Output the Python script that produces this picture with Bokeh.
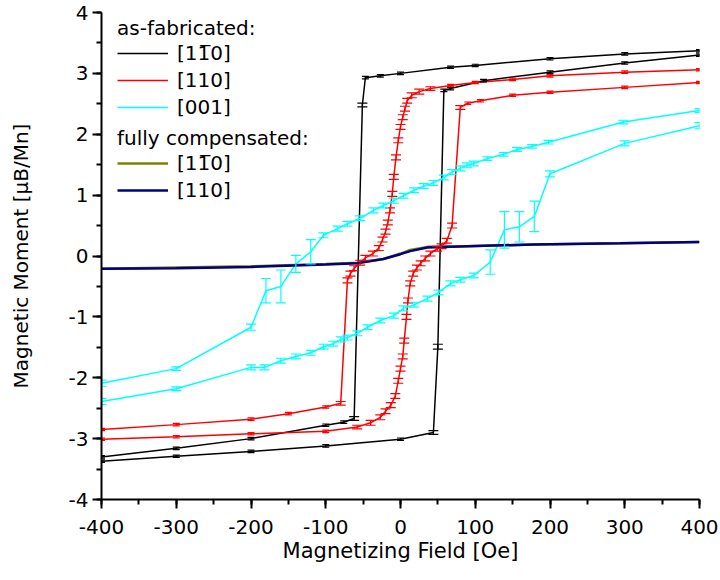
import numpy as np
from bokeh.plotting import figure
from bokeh.models import (Range1d, SingleIntervalTicker, PrintfTickFormatter, Whisker, TeeHead,
                          ColumnDataSource, Legend, LegendItem)
from bokeh.embed import file_html
from bokeh.resources import INLINE

FONT = "DejaVu Sans"

# ---------------- data ----------------
# as-fabricated [1-10]  (black)
blk_dn_x = [400, 300, 200, 100, 67, 0, -27, -47, -51, -62, -76, -100, -200, -300, -400]
blk_dn_y = [3.37, 3.32, 3.24, 3.13, 3.10, 3.00, 2.96, 2.93, 2.48, -2.67, -2.73, -2.78, -3.00, -3.16, -3.30]
blk_dn_e = [0.02, 0.02, 0.02, 0.02, 0.02, 0.02, 0.02, 0.02, 0.03, 0.03, 0.02, 0.02, 0.02, 0.02, 0.02]
blk_up_x = [-400, -300, -200, -100, 0, 44, 50, 58, 67, 111, 200, 300, 400]
blk_up_y = [-3.37, -3.29, -3.21, -3.12, -3.01, -2.90, -1.49, 2.72, 2.75, 2.88, 3.02, 3.17, 3.30]
blk_up_e = [0.02, 0.02, 0.02, 0.02, 0.02, 0.03, 0.04, 0.02, 0.02, 0.02, 0.02, 0.02, 0.02]

# as-fabricated [110]  (red)
red_dn_x = [400, 300, 200, 150, 100, 67, 40, 25, 15, 9, 6, 3, 0, -3, -6, -9, -11, -14, -17, -20, -24,
            -29, -37, -47, -54, -62, -67, -71, -80, -100, -150, -200, -300, -400]
red_dn_y = [3.06, 3.02, 2.96, 2.90, 2.85, 2.80, 2.75, 2.70, 2.64, 2.55, 2.42, 2.28, 2.12, 1.90, 1.62,
            1.30, 1.02, 0.75, 0.55, 0.40, 0.27, 0.13, 0.04, -0.03, -0.11, -0.20, -0.29, -0.40, -2.42,
            -2.48, -2.59, -2.68, -2.77, -2.85]
red_dn_e = [0.02, 0.02, 0.02, 0.02, 0.02, 0.02, 0.03, 0.04, 0.04, 0.04, 0.04, 0.04, 0.04, 0.04, 0.04,
            0.04, 0.04, 0.04, 0.04, 0.04, 0.04, 0.04, 0.04, 0.04, 0.04, 0.04, 0.04, 0.04, 0.03,
            0.02, 0.02, 0.02, 0.02, 0.02]
red_up_x = [-400, -300, -200, -100, -58, -40, -27, -20, -13, -7, -3, 0, 3, 5, 8, 10, 13, 17, 22, 27,
            33, 40, 49, 55, 62, 69, 80, 90, 107, 150, 200, 300, 400]
red_up_y = [-3.01, -2.97, -2.92, -2.88, -2.81, -2.74, -2.65, -2.55, -2.45, -2.30, -2.05, -1.85, -1.65,
            -1.39, -1.00, -0.73, -0.45, -0.29, -0.19, -0.12, -0.04, 0.04, 0.12, 0.16, 0.25, 0.50, 2.44,
            2.51, 2.55, 2.64, 2.69, 2.77, 2.85]
red_up_e = [0.02, 0.02, 0.02, 0.02, 0.03, 0.04, 0.04, 0.04, 0.04, 0.04, 0.04, 0.04, 0.04,
            0.04, 0.04, 0.04, 0.04, 0.04, 0.04, 0.04, 0.04, 0.04, 0.04, 0.04, 0.04, 0.04, 0.03,
            0.02, 0.02, 0.02, 0.02, 0.02, 0.02]

# as-fabricated [001]  (cyan)
cyn_dn_x = [400, 298, 198, 176, 156, 138, 116, 98, 89, 80, 69, 58, 44, 31, 18, 4, -9, -23, -36, -54,
            -71, -84, -103, -120, -140, -160, -180, -200, -300, -400]
cyn_dn_y = [2.39, 2.20, 1.87, 1.80, 1.75, 1.67, 1.60, 1.52, 1.49, 1.44, 1.38, 1.29, 1.20, 1.15, 1.08,
            0.99, 0.91, 0.83, 0.75, 0.62, 0.53, 0.45, 0.34, 0.07, -0.13, -0.50, -0.57, -1.17, -1.85, -2.09]
cyn_dn_e = [0.03, 0.03, 0.03, 0.03, 0.03, 0.03, 0.03, 0.04, 0.04, 0.04, 0.04, 0.04, 0.04, 0.04, 0.04,
            0.04, 0.04, 0.04, 0.04, 0.04, 0.04, 0.04, 0.04, 0.20, 0.14, 0.27, 0.20, 0.05, 0.03, 0.05]
cyn_up_x = [-400, -300, -200, -182, -160, -140, -120, -103, -90, -80, -71, -58, -44, -27, -9, 4, 18,
            36, 51, 67, 80, 98, 120, 139, 159, 179, 200, 300, 400]
cyn_up_y = [-2.39, -2.18, -1.83, -1.83, -1.72, -1.65, -1.59, -1.49, -1.44, -1.37, -1.34, -1.27, -1.17,
            -1.06, -0.98, -0.86, -0.80, -0.70, -0.60, -0.45, -0.39, -0.32, -0.10, 0.43, 0.48, 0.65,
            1.35, 1.85, 2.14]
cyn_up_e = [0.05, 0.03, 0.04, 0.04, 0.04, 0.04, 0.04, 0.04, 0.04, 0.04, 0.04, 0.04, 0.04, 0.04, 0.04,
            0.04, 0.04, 0.04, 0.04, 0.04, 0.04, 0.04, 0.20, 0.30, 0.25, 0.25, 0.05, 0.04, 0.05]

# fully compensated
comp_x = [-400, -300, -200, -100, -58, -23, 0, 13, 36, 89, 178, 294, 400]
olv_y = [-0.21, -0.19, -0.17, -0.13, -0.11, -0.05, 0.04, 0.10, 0.15, 0.16, 0.19, 0.21, 0.23]
nvy_y = [-0.21, -0.20, -0.18, -0.14, -0.12, -0.05, 0.03, 0.08, 0.14, 0.16, 0.19, 0.21, 0.23]

x_ticks_interval = 100
y_ticks_interval = 1

# ---------------- figure ----------------
W, H = 720, 580
X0, X1, Y0, Y1 = -400, 400, -4, 4
FL, FR, FT, FB = 101, 21, 12, 81

p = figure(width=W, height=H, x_range=Range1d(X0, X1), y_range=Range1d(Y0, Y1),
           output_backend="svg", toolbar_location=None,
           min_border_left=FL, min_border_right=FR, min_border_top=FT, min_border_bottom=FB)
p.outline_line_color = None
p.xgrid.visible = False
p.ygrid.visible = False
p.background_fill_color = "white"
p.border_fill_color = "white"

p.xaxis.ticker = SingleIntervalTicker(interval=x_ticks_interval, num_minor_ticks=2)
p.yaxis.ticker = SingleIntervalTicker(interval=y_ticks_interval, num_minor_ticks=2)
for ax in (p.xaxis[0], p.yaxis[0]):
    ax.formatter = PrintfTickFormatter(format="%d")
    ax.axis_line_width = 2
    ax.axis_line_color = "black"
    ax.major_tick_line_width = 2
    ax.minor_tick_line_width = 2
    ax.major_tick_line_color = "black"
    ax.minor_tick_line_color = "black"
    ax.major_tick_in = 0
    ax.major_tick_out = 9
    ax.minor_tick_in = 0
    ax.minor_tick_out = 5
    ax.major_label_text_font = FONT
    ax.major_label_text_font_size = "20px"
    ax.major_label_text_color = "black"
    ax.axis_label_text_font = FONT
    ax.axis_label_text_font_style = "normal"
    ax.axis_label_text_color = "black"
p.xaxis.major_label_standoff = 11
p.yaxis.major_label_standoff = 4
p.xaxis.axis_label = "Magnetizing Field [Oe]"
p.xaxis.axis_label_text_font_size = "21px"
p.xaxis.axis_label_standoff = 2
p.yaxis.axis_label = "Magnetic Moment [\u03bcB/Mn]"
p.yaxis.axis_label_text_font_size = "20px"
p.yaxis.axis_label_standoff = 33


def draw(x, y, e, color, lw):
    y = np.asarray(y, float)
    src = ColumnDataSource(dict(x=x, y=y))
    r = p.line("x", "y", source=src, line_color=color, line_width=lw)
    if e is not None:
        e = np.asarray(e, float)
        x = np.asarray(x, float)
        for mask, head in ((e > 0.025, 10), (e <= 0.025, 7)):
            if mask.any():
                wsrc = ColumnDataSource(dict(x=x[mask], upper=(y + e)[mask], lower=(y - e)[mask]))
                p.add_layout(Whisker(source=wsrc, base="x", upper="upper", lower="lower",
                                     dimension="height", line_color=color, line_width=1.2, level="glyph",
                                     upper_head=TeeHead(size=head, line_color=color, line_width=1.2),
                                     lower_head=TeeHead(size=head, line_color=color, line_width=1.2)))
    return r


r_blk = draw(blk_dn_x, blk_dn_y, blk_dn_e, "black", 1.5)
draw(blk_up_x, blk_up_y, blk_up_e, "black", 1.5)
r_red = draw(red_dn_x, red_dn_y, red_dn_e, "#ff0000", 1.5)
draw(red_up_x, red_up_y, red_up_e, "#ff0000", 1.5)
r_cyn = draw(cyn_dn_x, cyn_dn_y, cyn_dn_e, "#00ffff", 1.5)
draw(cyn_up_x, cyn_up_y, cyn_up_e, "#00ffff", 1.5)
r_olv = draw(comp_x, olv_y, None, "#808000", 2.5)
r_nvy = draw(comp_x, nvy_y, None, "#000080", 2.5)

# ---------------- legends ----------------
def make_legend(title, items, loc):
    lg = Legend(items=items, title=title, location=loc,
                title_text_font=FONT, title_text_font_size="20px", title_text_font_style="normal",
                title_text_color="black", title_standoff=1,
                label_text_font=FONT, label_text_font_size="20px", label_text_color="black",
                glyph_width=51, glyph_height=20, label_standoff=9, spacing=3,
                padding=0, margin=0, border_line_color=None, background_fill_alpha=0)
    p.add_layout(lg)
    return lg

LBL_1BAR10 = "[1" + "1\u0305" + "0]"
make_legend("as-fabricated:", [LegendItem(label=LBL_1BAR10, renderers=[r_blk]),
                               LegendItem(label="[110]", renderers=[r_red]),
                               LegendItem(label="[001]", renderers=[r_cyn])], (16, 380))
make_legend("fully compensated:", [LegendItem(label=LBL_1BAR10, renderers=[r_olv]),
                                   LegendItem(label="[110]", renderers=[r_nvy])], (16, 297))

open("out.html", "w").write(file_html(p, INLINE))
